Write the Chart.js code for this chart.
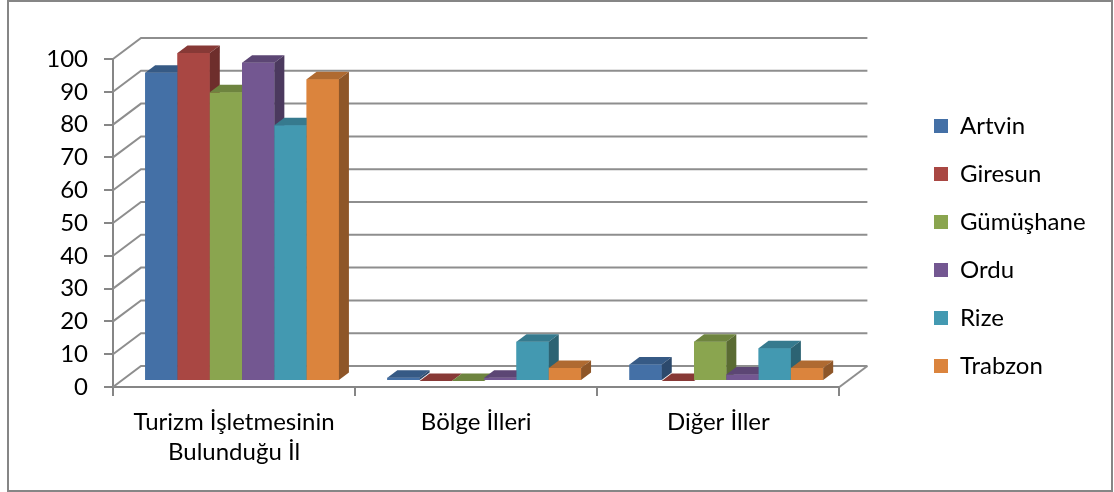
<!DOCTYPE html>
<html lang="tr">
<head>
<meta charset="utf-8">
<title>Turizm İşletmeleri</title>
<script src="https://cdn.jsdelivr.net/npm/chart.js@4.4.1/dist/chart.umd.min.js"></script>
<style>
  html, body { margin: 0; padding: 0; background: #fff; }
</style>
</head>
<body>
<canvas id="grafik" width="1114" height="492"></canvas>
<script>
// veriler
const kategoriler = [['Turizm İşletmesinin', 'Bulunduğu İl'], 'Bölge İlleri', 'Diğer İller'];
const iller = ['Artvin', 'Giresun', 'Gümüşhane', 'Ordu', 'Rize', 'Trabzon'];
const artvin    = [94, 1, 5];
const giresun   = [100, 0, 0];
const gumushane = [88, 0, 12];
const ordu      = [97, 1, 2];
const rize      = [78, 12, 10];
const trabzon   = [92, 4, 4];
const seriler = [artvin, giresun, gumushane, ordu, rize, trabzon];
const renkler = ['#4470A6', '#A94743', '#8AA54F', '#735791', '#4399B1', '#DB843D'];

// 3B görünüm ofsetleri (piksel)
const DUVAR = { dx: 28, dy: -21 };   // arka duvar
const ON = { dx: 8, dy: -6 };        // sütunların ön yüzü
const DERINLIK = { dx: 10, dy: -7.5 }; // sütun derinliği

function koyu(hex, k) {
  const n = parseInt(hex.slice(1), 16);
  const r = Math.round(((n >> 16) & 255) * k);
  const g = Math.round(((n >> 8) & 255) * k);
  const b = Math.round((n & 255) * k);
  return `rgb(${r},${g},${b})`;
}

const ucBoyut = {
  id: 'ucBoyut',
  beforeDraw(chart) {
    const ctx = chart.ctx;
    ctx.save();
    ctx.fillStyle = '#fff';
    ctx.fillRect(0, 0, chart.width, chart.height);
    ctx.strokeStyle = '#868686';
    ctx.lineWidth = 2;
    ctx.strokeRect(8, 1, 1104, 490);
    ctx.restore();
  },
  afterLayout(chart) {
    const lg = chart.legend;
    lg.left = 910; lg.right = 910 + lg.width;
    lg.top = 90; lg.bottom = 90 + lg.height;
  },
  beforeDatasetsDraw(chart) {
    const { ctx, chartArea: a, scales: { y } } = chart;
    ctx.save();
    ctx.strokeStyle = '#8e8e8e';
    ctx.lineWidth = 2;
    y.ticks.forEach(t => {
      const py = y.getPixelForValue(t.value);
      ctx.beginPath();
      ctx.moveTo(a.left, py);
      ctx.lineTo(a.left + DUVAR.dx, py + DUVAR.dy);
      ctx.lineTo(a.right + DUVAR.dx, py + DUVAR.dy);
      ctx.stroke();
    });
    ctx.beginPath();
    ctx.moveTo(a.right, a.bottom);
    ctx.lineTo(a.right + DUVAR.dx, a.bottom + DUVAR.dy);
    ctx.stroke();
    ctx.restore();
    ctx.save();
    ctx.translate(ON.dx, ON.dy);
  },
  afterDatasetsDraw(chart) {
    const ctx = chart.ctx;
    const sutunlar = [];
    chart.data.datasets.forEach((ds, i) => {
      chart.getDatasetMeta(i).data.forEach(el => sutunlar.push({ el, renk: ds.backgroundColor }));
    });
    // soldan sağa boya, sağdaki ön yüz soldakinin yan yüzünü örter
    sutunlar.sort((p, q) => p.el.x - q.el.x);
    sutunlar.forEach(({ el, renk }) => {
      const { x, y, base, width } = el.getProps(['x', 'y', 'base', 'width'], true);
      const x0 = x - width / 2, x1 = x + width / 2;
      const { dx, dy } = DERINLIK;
      ctx.fillStyle = renk;
      ctx.fillRect(x0, y, width, base - y);
      ctx.fillStyle = koyu(renk, 0.8);
      ctx.beginPath();
      ctx.moveTo(x0, y); ctx.lineTo(x1, y); ctx.lineTo(x1 + dx, y + dy); ctx.lineTo(x0 + dx, y + dy);
      ctx.closePath(); ctx.fill();
      ctx.fillStyle = koyu(renk, 0.65);
      ctx.beginPath();
      ctx.moveTo(x1, y); ctx.lineTo(x1 + dx, y + dy); ctx.lineTo(x1 + dx, base + dy); ctx.lineTo(x1, base);
      ctx.closePath(); ctx.fill();
    });
    ctx.restore();
  }
};

Chart.defaults.font.family = 'Lato';
Chart.defaults.font.size = 24;
Chart.defaults.color = '#000';

new Chart(document.getElementById('grafik'), {
  type: 'bar',
  data: {
    labels: kategoriler,
    datasets: iller.map((il, i) => ({
      label: il,
      data: seriler[i],
      backgroundColor: renkler[i],
      borderWidth: 0,
      categoryPercentage: 0.8,
      barPercentage: 1.0
    }))
  },
  options: {
    responsive: false,
    animation: false,
    layout: { padding: { top: 59, right: 89, left: 0, bottom: 0 } },
    plugins: {
      legend: {
        position: 'right',
        align: 'start',
        labels: { boxWidth: 14, boxHeight: 14, padding: 24, font: { size: 24 } }
      },
      tooltip: { enabled: false }
    },
    scales: {
      x: {
        afterFit(s) { s.height = 105; },
        grid: { drawOnChartArea: false, offset: true, color: '#868686', lineWidth: 2, tickLength: 9 },
        border: { display: true, color: '#868686', width: 2 },
        ticks: { padding: 11, maxRotation: 0, font: { size: 24, lineHeight: 1.25 } }
      },
      y: {
        min: 0, max: 100,
        afterFit(s) { s.width = 113; },
        grid: { drawOnChartArea: false, color: '#868686', lineWidth: 2, tickLength: 9 },
        border: { display: true, color: '#868686', width: 2 },
        ticks: { stepSize: 10, padding: 16, font: { size: 24 } }
      }
    }
  },
  plugins: [ucBoyut]
});
</script>
</body>
</html>
